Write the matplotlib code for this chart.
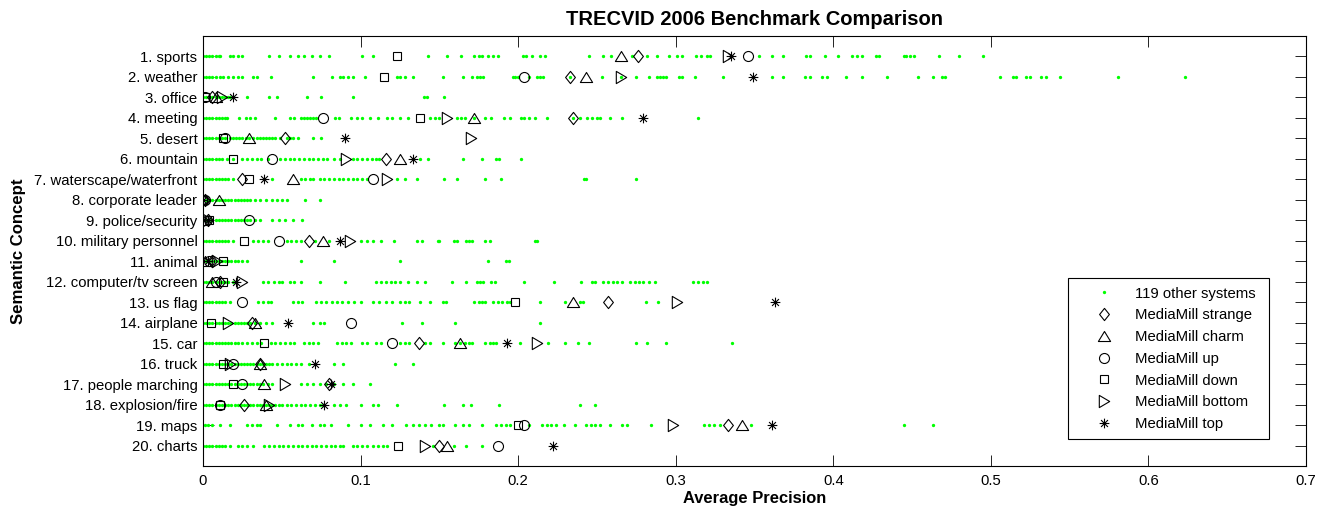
import matplotlib
matplotlib.use('Agg')
import matplotlib.pyplot as plt
from matplotlib.path import Path
from matplotlib.patches import Rectangle

plt.rcParams['font.family'] = ['Liberation Sans', 'DejaVu Sans']

concepts = ["1. sports", "2. weather", "3. office", "4. meeting", "5. desert",
            "6. mountain", "7. waterscape/waterfront", "8. corporate leader",
            "9. police/security", "10. military personnel", "11. animal",
            "12. computer/tv screen", "13. us flag", "14. airplane", "15. car",
            "16. truck", "17. people marching", "18. explosion/fire", "19. maps",
            "20. charts"]

# MediaMill runs (average precision per concept)
strange = [0.276, 0.233, 0.006, 0.235, 0.052, 0.116, 0.025, 0.001, 0.003, 0.067,
           0.006, 0.011, 0.257, 0.031, 0.137, 0.036, 0.080, 0.026, 0.333, 0.150]
charm = [0.265, 0.243, 0.008, 0.172, 0.029, 0.125, 0.057, 0.010, 0.000, 0.076,
         0.001, 0.006, 0.235, 0.033, 0.163, 0.036, 0.039, 0.040, 0.342, 0.155]
up = [0.346, 0.204, 0.001, 0.076, 0.014, 0.044, 0.108, 0.001, 0.029, 0.048,
      0.004, 0.008, 0.025, 0.094, 0.120, 0.019, 0.025, 0.011, 0.204, 0.187]
down = [0.123, 0.115, 0.001, 0.138, 0.013, 0.019, 0.029, 0.000, 0.004, 0.026,
        0.013, 0.013, 0.198, 0.005, 0.039, 0.013, 0.019, 0.011, 0.200, 0.124]
bottom = [0.333, 0.265, 0.012, 0.155, 0.170, 0.091, 0.117, 0.001, 0.003, 0.093,
          0.009, 0.025, 0.301, 0.016, 0.212, 0.017, 0.052, 0.042, 0.298, 0.141]
top = [0.335, 0.349, 0.019, 0.279, 0.090, 0.133, 0.039, 0.000, 0.003, 0.087,
       0.003, 0.021, 0.363, 0.054, 0.193, 0.071, 0.081, 0.077, 0.361, 0.222]

# other systems (visible points per concept)
sports = [0.000, 0.002, 0.004, 0.006, 0.008, 0.010, 0.011, 0.017, 0.019, 0.022, 0.025, 0.042, 0.048,
          0.055, 0.060, 0.064, 0.069, 0.074, 0.080, 0.101, 0.108, 0.143, 0.155, 0.164, 0.172, 0.175,
          0.177, 0.181, 0.184, 0.187, 0.203, 0.205, 0.209, 0.214, 0.217, 0.245, 0.254, 0.259, 0.272,
          0.282, 0.288, 0.296, 0.301, 0.304, 0.313, 0.316, 0.320, 0.322, 0.353, 0.361, 0.368, 0.383,
          0.385, 0.395, 0.403, 0.412, 0.415, 0.418, 0.427, 0.429, 0.445, 0.446, 0.449, 0.451, 0.467,
          0.480, 0.495]
weather = [0.000, 0.002, 0.004, 0.006, 0.008, 0.011, 0.013, 0.016, 0.019, 0.022, 0.025, 0.032, 0.034,
           0.043, 0.070, 0.082, 0.087, 0.089, 0.092, 0.095, 0.103, 0.123, 0.125, 0.128, 0.133, 0.152,
           0.165, 0.171, 0.174, 0.176, 0.178, 0.197, 0.198, 0.200, 0.207, 0.212, 0.214, 0.216, 0.233,
           0.253, 0.265, 0.275, 0.283, 0.288, 0.290, 0.292, 0.294, 0.302, 0.304, 0.312, 0.330, 0.361,
           0.368, 0.382, 0.385, 0.393, 0.396, 0.408, 0.418, 0.434, 0.454, 0.463, 0.469, 0.471, 0.506,
           0.514, 0.516, 0.522, 0.525, 0.532, 0.535, 0.544, 0.581, 0.623]
office = [0.000, 0.002, 0.004, 0.006, 0.008, 0.010, 0.012, 0.014, 0.016, 0.017, 0.028, 0.042, 0.047,
          0.066, 0.075, 0.095, 0.140, 0.142, 0.153]
meeting = [0.000, 0.002, 0.004, 0.006, 0.008, 0.010, 0.012, 0.014, 0.015, 0.023, 0.027, 0.030, 0.033,
           0.046, 0.055, 0.058, 0.062, 0.064, 0.066, 0.068, 0.070, 0.072, 0.084, 0.086, 0.094, 0.098,
           0.101, 0.106, 0.111, 0.117, 0.120, 0.125, 0.130, 0.144, 0.147, 0.150, 0.161, 0.164, 0.166,
           0.172, 0.179, 0.183, 0.191, 0.195, 0.202, 0.204, 0.207, 0.211, 0.218, 0.235, 0.239, 0.244,
           0.247, 0.250, 0.252, 0.258, 0.266, 0.314]
desert = [0.000, 0.002, 0.004, 0.006, 0.008, 0.010, 0.012, 0.014, 0.017, 0.019, 0.021, 0.023, 0.025,
          0.027, 0.029, 0.032, 0.034, 0.036, 0.038, 0.040, 0.042, 0.044, 0.046, 0.049, 0.053, 0.055,
          0.057, 0.060, 0.070, 0.075]
mountain = [0.000, 0.002, 0.004, 0.006, 0.008, 0.010, 0.012, 0.015, 0.019, 0.025, 0.028, 0.031, 0.034,
            0.037, 0.041, 0.049, 0.052, 0.055, 0.058, 0.061, 0.064, 0.067, 0.070, 0.073, 0.076, 0.079,
            0.083, 0.087, 0.095, 0.098, 0.101, 0.104, 0.107, 0.110, 0.112, 0.138, 0.143, 0.165, 0.177,
            0.186, 0.188, 0.202]
waterscape = [0.000, 0.002, 0.004, 0.006, 0.008, 0.010, 0.012, 0.014, 0.016, 0.019, 0.044, 0.062, 0.065,
              0.068, 0.070, 0.074, 0.077, 0.080, 0.083, 0.086, 0.089, 0.092, 0.095, 0.098, 0.101, 0.104,
              0.123, 0.128, 0.136, 0.153, 0.161, 0.179, 0.189, 0.242, 0.243, 0.275]
corporate = [0.000, 0.002, 0.004, 0.006, 0.008, 0.010, 0.012, 0.014, 0.016, 0.018, 0.020, 0.022, 0.024,
             0.026, 0.028, 0.030, 0.033, 0.036, 0.040, 0.044, 0.047, 0.050, 0.053, 0.065, 0.074]
police = [0.000, 0.002, 0.004, 0.006, 0.008, 0.010, 0.012, 0.014, 0.016, 0.018, 0.020, 0.022, 0.024,
          0.026, 0.028, 0.030, 0.033, 0.036, 0.044, 0.048, 0.052, 0.057, 0.063]
military = [0.000, 0.002, 0.004, 0.006, 0.008, 0.010, 0.012, 0.014, 0.016, 0.019, 0.032, 0.035, 0.038,
            0.041, 0.053, 0.056, 0.059, 0.062, 0.071, 0.080, 0.100, 0.104, 0.108, 0.113, 0.121, 0.136,
            0.139, 0.149, 0.150, 0.159, 0.161, 0.167, 0.169, 0.171, 0.179, 0.182, 0.211, 0.212]
animal = [0.000, 0.002, 0.004, 0.006, 0.008, 0.010, 0.012, 0.014, 0.016, 0.018, 0.020, 0.022, 0.025,
          0.028, 0.062, 0.083, 0.125, 0.181, 0.192, 0.194]
computer = [0.000, 0.002, 0.004, 0.006, 0.008, 0.010, 0.012, 0.014, 0.016, 0.019, 0.038, 0.041, 0.045,
            0.048, 0.050, 0.055, 0.058, 0.062, 0.074, 0.090, 0.110, 0.113, 0.116, 0.119, 0.122, 0.125,
            0.130, 0.136, 0.141, 0.158, 0.167, 0.174, 0.176, 0.178, 0.183, 0.185, 0.204, 0.223, 0.240,
            0.247, 0.249, 0.254, 0.257, 0.260, 0.263, 0.266, 0.271, 0.274, 0.277, 0.279, 0.283, 0.287,
            0.311, 0.314, 0.317, 0.320]
usflag = [0.000, 0.002, 0.004, 0.006, 0.008, 0.010, 0.012, 0.014, 0.017, 0.035, 0.038, 0.041, 0.043,
          0.057, 0.060, 0.063, 0.072, 0.075, 0.078, 0.082, 0.085, 0.088, 0.092, 0.096, 0.100, 0.108,
          0.112, 0.116, 0.120, 0.125, 0.128, 0.131, 0.138, 0.144, 0.152, 0.154, 0.172, 0.175, 0.177,
          0.179, 0.184, 0.187, 0.190, 0.193, 0.195, 0.214, 0.230, 0.239, 0.241, 0.281, 0.289]
airplane = [0.000, 0.002, 0.004, 0.006, 0.008, 0.010, 0.012, 0.014, 0.016, 0.018, 0.020, 0.022, 0.024,
            0.026, 0.028, 0.030, 0.033, 0.036, 0.040, 0.044, 0.070, 0.074, 0.077, 0.126, 0.139, 0.160,
            0.214]
car = [0.000, 0.002, 0.004, 0.006, 0.008, 0.010, 0.012, 0.014, 0.016, 0.018, 0.020, 0.022, 0.025, 0.028,
       0.031, 0.034, 0.037, 0.043, 0.046, 0.049, 0.052, 0.055, 0.058, 0.064, 0.067, 0.070, 0.073, 0.085,
       0.088, 0.091, 0.094, 0.101, 0.104, 0.110, 0.113, 0.125, 0.128, 0.131, 0.141, 0.144, 0.152, 0.160,
       0.163, 0.166, 0.169, 0.171, 0.179, 0.182, 0.184, 0.186, 0.201, 0.219, 0.230, 0.238, 0.245, 0.275,
       0.282, 0.294, 0.336]
truck = [0.000, 0.002, 0.004, 0.006, 0.008, 0.010, 0.012, 0.014, 0.016, 0.018, 0.020, 0.022, 0.024,
         0.026, 0.028, 0.030, 0.032, 0.034, 0.036, 0.038, 0.040, 0.042, 0.044, 0.047, 0.050, 0.053,
         0.056, 0.059, 0.062, 0.067, 0.083, 0.089, 0.122, 0.133]
marching = [0.000, 0.002, 0.004, 0.006, 0.008, 0.010, 0.012, 0.014, 0.016, 0.018, 0.020, 0.022, 0.024,
            0.026, 0.028, 0.030, 0.032, 0.034, 0.036, 0.038, 0.041, 0.044, 0.062, 0.066, 0.070, 0.074,
            0.078, 0.083, 0.089, 0.095, 0.106]
explosion = [0.000, 0.002, 0.004, 0.006, 0.008, 0.010, 0.012, 0.014, 0.016, 0.018, 0.020, 0.022, 0.024,
             0.026, 0.028, 0.030, 0.032, 0.034, 0.036, 0.038, 0.040, 0.042, 0.044, 0.046, 0.048, 0.050,
             0.053, 0.056, 0.059, 0.062, 0.065, 0.068, 0.071, 0.074, 0.076, 0.083, 0.087, 0.091, 0.100,
             0.108, 0.111, 0.123, 0.153, 0.165, 0.170, 0.188, 0.239, 0.249]
maps = [0.001, 0.003, 0.006, 0.011, 0.017, 0.028, 0.031, 0.034, 0.036, 0.047, 0.055, 0.060, 0.063, 0.069,
        0.074, 0.077, 0.081, 0.092, 0.100, 0.106, 0.114, 0.120, 0.129, 0.133, 0.137, 0.141, 0.145, 0.150,
        0.152, 0.160, 0.165, 0.169, 0.177, 0.186, 0.189, 0.192, 0.195, 0.207, 0.215, 0.218, 0.221, 0.224,
        0.229, 0.236, 0.243, 0.246, 0.249, 0.252, 0.258, 0.266, 0.269, 0.284, 0.318, 0.321, 0.324, 0.328,
        0.348, 0.445, 0.463]
charts = [0.000, 0.002, 0.004, 0.006, 0.008, 0.010, 0.012, 0.014, 0.017, 0.022, 0.025, 0.028, 0.032,
          0.039, 0.042, 0.045, 0.048, 0.051, 0.054, 0.057, 0.060, 0.063, 0.066, 0.069, 0.072, 0.075,
          0.078, 0.081, 0.084, 0.087, 0.089, 0.095, 0.098, 0.101, 0.104, 0.108, 0.111, 0.114, 0.117,
          0.146, 0.159, 0.167, 0.177]

others = [sports, weather, office, meeting, desert, mountain, waterscape, corporate, police,
          military, animal, computer, usflag, airplane, car, truck, marching, explosion, maps, charts]

series = [("MediaMill strange", strange), ("MediaMill charm", charm), ("MediaMill up", up),
          ("MediaMill down", down), ("MediaMill bottom", bottom), ("MediaMill top", top)]

# marker shapes (MATLAB-like)
m_diamond = Path([(0, 1), (0.8, 0), (0, -1), (-0.8, 0), (0, 1)],
                 [Path.MOVETO, Path.LINETO, Path.LINETO, Path.LINETO, Path.CLOSEPOLY])
m_triup = Path([(0, 0.82), (1, -0.82), (-1, -0.82), (0, 0.82)],
               [Path.MOVETO, Path.LINETO, Path.LINETO, Path.CLOSEPOLY])
m_triright = Path([(0.85, 0), (-0.85, 1), (-0.85, -1), (0.85, 0)],
                  [Path.MOVETO, Path.LINETO, Path.LINETO, Path.CLOSEPOLY])
d = 0.7071
m_star = Path([(-1, 0), (1, 0), (0, -1), (0, 1), (-d, -d), (d, d), (-d, d), (d, -d)],
              [Path.MOVETO, Path.LINETO] * 4)
styles = [(m_diamond, 8.8), (m_triup, 8.8), ('o', 7.2), ('s', 5.9), (m_triright, 8.8), (m_star, 7.0)]

W, H = 1320, 507
fig = plt.figure(figsize=(W / 100, H / 100), dpi=100)
ax = fig.add_axes([203 / W, 1 - 466 / H, (1306 - 203) / W, (466 - 36) / H])

ox, oy = [], []
for i, vals in enumerate(others):
    ox.extend(vals)
    oy.extend([i + 1] * len(vals))
ax.plot(ox, oy, linestyle='none', marker='o', markersize=2.4, markerfacecolor=(0, 1, 0),
        markeredgewidth=0, label="119 other systems")

rows = list(range(1, len(concepts) + 1))
for (name, vals), (mk, ms) in zip(series, styles):
    ax.plot(vals, rows, linestyle='none', marker=mk, markersize=ms, markerfacecolor='none',
            markeredgecolor='black', markeredgewidth=0.8, label=name)

ax.set_xlim(0, 0.7)
ax.set_ylim(21, 0)
ax.set_xticks([0, 0.1, 0.2, 0.3, 0.4, 0.5, 0.6, 0.7])
ax.set_xticklabels(["0", "0.1", "0.2", "0.3", "0.4", "0.5", "0.6", "0.7"])
ax.set_yticks(rows)
ax.set_yticklabels(concepts)
ax.tick_params(direction='in', length=7.9, width=0.6, top=True, right=True, labelsize=10.7,
               colors='black')
ax.tick_params(axis='x', pad=6)
ax.tick_params(axis='y', pad=4)
for s in ax.spines.values():
    s.set_linewidth(0.8)
    s.set_color('black')

ax.set_title("TRECVID 2006 Benchmark Comparison", fontsize=14.5, fontweight='bold', pad=8)
ax.set_xlabel("Average Precision", fontsize=11.9, fontweight='bold', labelpad=2)
ax.set_ylabel("Semantic Concept", fontsize=12.1, fontweight='bold', labelpad=6)

leg = ax.legend(loc='upper left', bbox_to_anchor=(1068 / W, 1 - 280 / H),
                bbox_transform=fig.transFigure, fontsize=10.7, numpoints=1,
                handlelength=4.0, handletextpad=0.05, borderpad=0.45, labelspacing=0.52,
                borderaxespad=0, frameon=False)
fig.patches.append(Rectangle((1068 / W, 1 - 439 / H), (1269 - 1068) / W, (439 - 278) / H,
                             transform=fig.transFigure, fill=False, edgecolor='black',
                             linewidth=0.8, zorder=5))

fig.savefig("out.png", dpi=100)
